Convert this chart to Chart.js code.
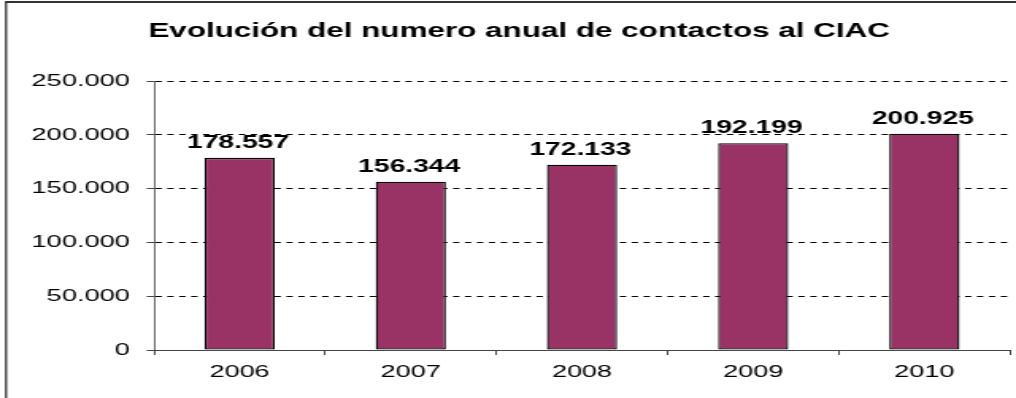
<!DOCTYPE html>
<html>
<head>
<meta charset="utf-8">
<script src="https://cdn.jsdelivr.net/npm/chart.js@4"></script>
<style>
  html, body { margin: 0; padding: 0; background: #fff; }
  #c { display: block; width: 1016px !important; height: 398px !important; }
</style>
</head>
<body>
<canvas id="c" width="640" height="398" style="width:1016px;height:398px;display:block"></canvas>
<script>
const years = ['2006', '2007', '2008', '2009', '2010'];
const contacts = [178557, 156344, 172133, 192199, 200925];
const yTicks = [0, 50000, 100000, 150000, 200000, 250000];
const titleText = 'Evolución del numero anual de contactos al CIAC';

const FONT = '"Liberation Sans", Arial, sans-serif';

// thousands with a dot, as in Spanish
function fmt(v) {
  return String(Math.round(v)).replace(/\B(?=(\d{3})+(?!\d))/g, '.');
}

// value labels above each bar
const valueLabels = {
  id: 'valueLabels',
  afterDatasetsDraw(chart) {
    const ctx = chart.ctx;
    const meta = chart.getDatasetMeta(0);
    ctx.save();
    ctx.font = 'bold 17.8px ' + FONT;
    ctx.fillStyle = '#000';
    ctx.textAlign = 'center';
    ctx.textBaseline = 'alphabetic';
    meta.data.forEach((bar, i) => {
      ctx.fillText(fmt(chart.data.datasets[0].data[i]), bar.x - 1, bar.y - 10);
    });
    ctx.restore();
  }
};

// chart heading and the frame's left and top edges
const frame = {
  id: 'frame',
  afterDraw(chart) {
    const ctx = chart.ctx;
    ctx.save();
    ctx.font = 'bold 19.8px ' + FONT;
    ctx.fillStyle = '#000';
    ctx.textAlign = 'center';
    ctx.textBaseline = 'alphabetic';
    ctx.fillText(titleText, 327, 36.7);

    ctx.strokeStyle = '#333';
    ctx.lineWidth = 1.3;
    ctx.beginPath();
    ctx.moveTo(3.8, chart.height + 5);
    ctx.lineTo(3.8, 2);
    ctx.stroke();
    ctx.lineWidth = 2;
    ctx.beginPath();
    ctx.moveTo(3.2, 2);
    ctx.lineTo(chart.width + 5, 2);
    ctx.stroke();
    ctx.restore();
  }
};

new Chart(document.getElementById('c'), {
  type: 'bar',
  data: {
    labels: years,
    datasets: [{
      data: contacts,
      backgroundColor: '#993366',
      borderColor: '#000',
      borderWidth: 1.3,
      borderSkipped: false,
      barPercentage: 0.41,
      categoryPercentage: 1.0
    }]
  },
  options: {
    responsive: false,
    animation: false,
    devicePixelRatio: 1,
    layout: { padding: { left: 0, right: 3.8, top: 81, bottom: 0 } },
    plugins: {
      legend: { display: false },
      tooltip: { enabled: false },
      title: { display: false }
    },
    scales: {
      x: {
        afterFit(s) { s.height = 48; },
        grid: {
          display: true,
          offset: true,
          drawOnChartArea: false,
          drawTicks: true,
          tickLength: 5,
          tickColor: '#444',
          tickWidth: 1
        },
        border: { display: true, color: '#444', width: 1 },
        ticks: {
          color: '#000',
          padding: 7,
          font: { family: FONT, size: 17 }
        }
      },
      y: {
        min: 0,
        max: 250000,
        afterFit(s) { s.width = 97; },
        afterBuildTicks(s) { s.ticks = yTicks.map(v => ({ value: v })); },
        grid: {
          display: true,
          color: '#000',
          lineWidth: 1,
          drawTicks: true,
          tickLength: 4.6,
          tickColor: '#444',
          tickWidth: 1,
          tickBorderDash: []
        },
        border: { display: true, color: '#444', width: 0.8, dash: [4, 3.5] },
        ticks: {
          color: '#000',
          padding: 10.5,
          font: { family: FONT, size: 17.2 },
          callback: v => fmt(v)
        }
      }
    }
  },
  plugins: [valueLabels, frame]
});
</script>
</body>
</html>
